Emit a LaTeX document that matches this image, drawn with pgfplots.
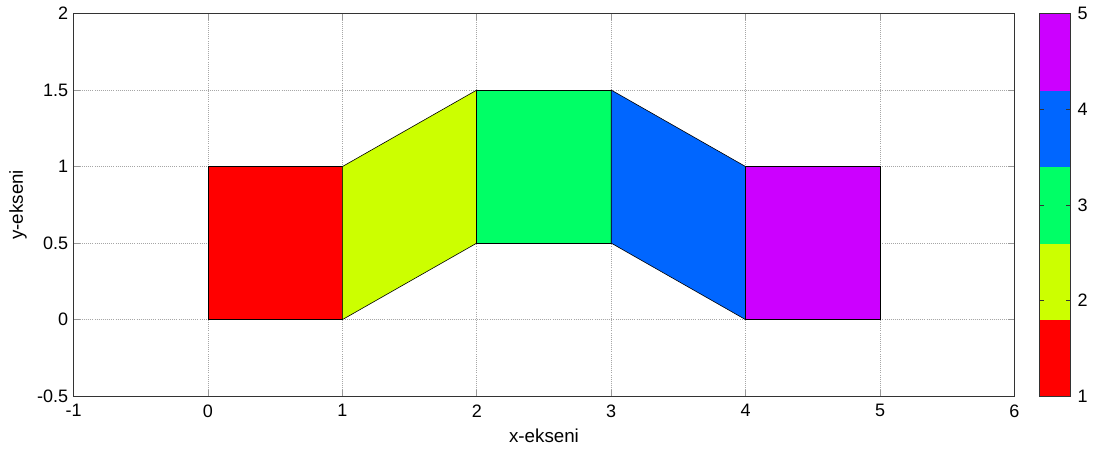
\documentclass[border=0pt]{standalone}
\usepackage{pgfplots}
\pgfplotsset{compat=1.18}
\usepackage{fontspec}
\setmainfont{Liberation Sans}
\definecolor{c1}{rgb}{1,0,0}
\definecolor{c2}{rgb}{0.8,1,0}
\definecolor{c3}{rgb}{0,1,0.4}
\definecolor{c4}{rgb}{0,0.4,1}
\definecolor{c5}{rgb}{0.8,0,1}
\begin{document}
\begin{tikzpicture}
\useasboundingbox (-49pt,-36pt) rectangle (680pt,264pt);
\begin{axis}[
  at={(0,0)}, anchor=south west,
  scale only axis,
  width=627pt, height=255pt,
  xmin=-1, xmax=6, ymin=-0.5, ymax=2,
  xtick={-1,0,...,6},
  ytick={-0.5,0,0.5,1,1.5,2},
  yticklabels={-0.5,0,0.5,1,1.5,2},
  grid=major,
  major grid style={densely dotted, gray!70, line width=0.5pt},
  tick align=inside,
  major tick length=4pt,
  tick style={gray!80, line width=0.5pt},
  axis line style={black!80, line width=0.6pt},
  every tick label/.style={font=\fontsize{12}{14}\selectfont},
  xticklabel style={yshift=-2pt},
  /pgf/number format/assume math mode=true,
  xlabel={x-ekseni}, ylabel={y-ekseni},
  label style={font=\fontsize{12.5}{14}\selectfont},
  xlabel style={at={(axis description cs:0.5,-0.104)}, anchor=center},
  ylabel style={at={(axis description cs:-0.059,0.5)}, anchor=center},
  colormap={hsvfive}{rgb=(1,0,0) rgb=(0.8,1,0) rgb=(0,1,0.4) rgb=(0,0.4,1) rgb=(0.8,0,1)},
  colormap access=piecewise constant,
  point meta min=1, point meta max=5,
  colorbar,
  colorbar style={
    at={(parent axis.north east)}, anchor=north west, xshift=8pt,
    width=21pt, height=255pt, scale only axis,
    ytick={1,2,3,4,5},
    yticklabel pos=right,
    tick align=inside,
    major tick length=3pt,
    tick style={black!80},
    axis line style={black!80},
    every tick label/.style={font=\fontsize{12}{14}\selectfont},
    /pgf/number format/assume math mode=true,
    yticklabel style={xshift=1pt},
  },
]
\addplot[fill=c1, draw=black, line width=0.4pt] coordinates {(0,0) (1,0) (1,1) (0,1)} -- cycle;
\addplot[fill=c2, draw=black, line width=0.4pt] coordinates {(1,0) (2,0.5) (2,1.5) (1,1)} -- cycle;
\addplot[fill=c3, draw=black, line width=0.4pt] coordinates {(2,0.5) (3,0.5) (3,1.5) (2,1.5)} -- cycle;
\addplot[fill=c4, draw=black, line width=0.4pt] coordinates {(3,0.5) (4,0) (4,1) (3,1.5)} -- cycle;
\addplot[fill=c5, draw=black, line width=0.4pt] coordinates {(4,0) (5,0) (5,1) (4,1)} -- cycle;
\end{axis}
\end{tikzpicture}
\end{document}
